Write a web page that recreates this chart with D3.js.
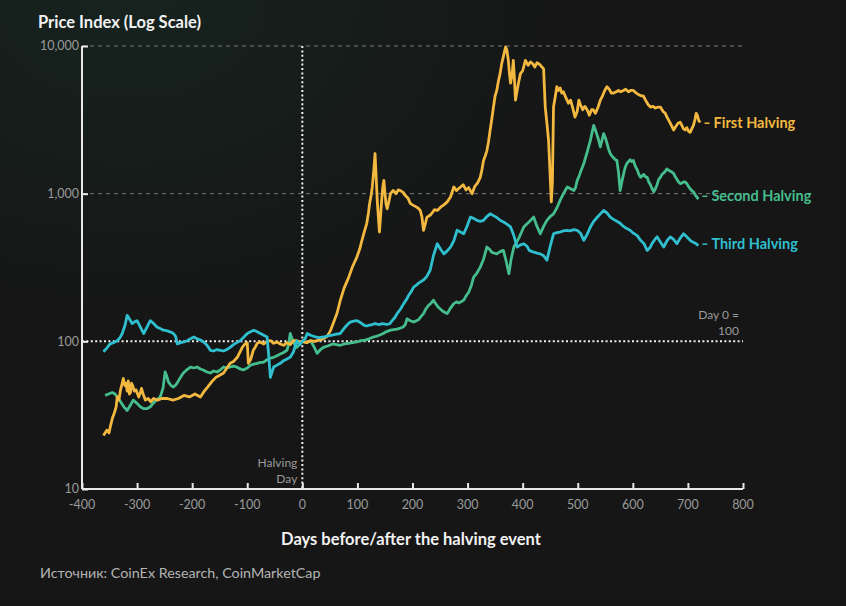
<!DOCTYPE html>
<html>
<head>
<meta charset="utf-8">
<script src="https://cdn.jsdelivr.net/npm/d3@7"></script>
<style>
  html, body { margin: 0; padding: 0; background: #161616; }
  svg { display: block; }
</style>
</head>
<body>
<svg id="chart" width="846" height="606"></svg>
<script>
// ---- data ----
const firstDays = [
  -361,-358,-355,-351,-348,-345,-341,-338,-336,-333,
  -330,-327,-325,-322,-320,-318,-316,-314,-312,-310,
  -308,-305,-302,-299,-297,-294,-292,-289,-285,-280,
  -275,-270,-263,-255,-245,-235,-225,-215,-205,-195,
  -185,-178,-172,-165,-157,-150,-143,-137,-131,-125,
  -118,-113,-109,-104,-100,-98,-94,-89,-85,-82,
  -76,-70,-64,-58,-52,-46,-40,-34,-28,-22,
  -16,-11,-5,0,8,15,22,30,38,45,
  51,57,63,69,76,84,91,99,104,108,
  113,117,120,122,125,127,130,132,134,136,
  138,140,142,144,146,148,150,152,154,157,
  160,165,170,174,178,183,187,192,196,200,
  205,210,214,217,220,223,226,233,240,245,
  251,257,263,269,275,280,286,292,297,302,
  308,313,318,323,326,329,332,335,338,341,
  344,347,350,353,356,359,362,365,369,371,
  374,376,378,381,383,385,387,390,392,394,
  396,400,405,410,414,418,422,426,431,435,
  438,441,444,447,450,452,454,456,459,462,
  465,468,471,474,478,483,487,491,495,499,
  502,505,509,513,517,521,525,528,532,537,
  541,545,549,553,557,561,565,570,574,578,
  583,587,592,596,601,606,610,615,619,623,
  628,632,637,641,646,650,655,659,662,666,
  670,674,678,682,686,689,692,695,698,701,
  704,707,710,713,715,717,720,723];
const firstValues = [
  23,24,25,24,27,30,33,36,42,40,
  47,52,56,50,52,46,54,44,45,52,
  50,46,47,44,42,45,48,44,40,41,
  39,41,40,41,41,40,41,43,42,44,
  42,46,49,53,57,59,61,66,71,73,
  78,85,91,96,98,71,75,87,92,97,
  99,96,100,101,97,99,96,94,98,95,
  101,101,99,100,98,101,100,102,104,108,
  118,135,155,190,230,270,320,372,420,480,
  560,630,740,850,980,1110,1480,1870,1300,900,
  700,550,700,900,1100,1230,1000,850,790,880,
  1000,1050,1000,1060,1050,1020,970,930,860,840,
  820,800,770,700,565,620,690,720,780,770,
  810,840,880,950,1110,1050,1100,1150,1060,1100,
  1000,1120,1180,1290,1450,1680,1800,1950,2250,2700,
  3200,3860,4600,5000,5800,6500,7600,8500,9840,9500,
  8000,6500,5600,6500,8000,6000,4300,5000,5500,6000,
  6500,6800,8000,7400,7800,7600,7200,7700,7500,7200,
  7000,3860,3000,2300,1300,880,1200,3860,4500,5300,
  5000,5200,4800,4900,4500,4100,4300,3800,3300,3600,
  4300,4000,3700,3900,3700,3400,3700,3700,3500,3860,
  4300,4600,5000,5300,5100,4800,4800,4900,5000,4900,
  5000,5100,4900,5000,5000,4800,4700,4600,4600,4300,
  4000,3860,3900,3800,3860,3860,3600,3500,3300,3100,
  2900,2700,2850,3000,3050,2900,2750,2700,2800,2650,
  2600,2750,2900,3200,3500,3400,3100,3050];

const secondDays = [
  -358,-352,-345,-340,-336,-330,-324,-318,-312,-307,
  -300,-294,-288,-282,-276,-271,-265,-258,-253,-249,
  -246,-243,-238,-234,-229,-225,-220,-216,-210,-203,
  -197,-191,-185,-180,-173,-167,-161,-155,-149,-143,
  -137,-131,-125,-119,-113,-107,-100,-94,-88,-82,
  -76,-71,-64,-58,-52,-46,-40,-34,-28,-25,
  -22,-16,-10,-5,0,7,15,21,27,33,
  38,46,55,62,69,76,84,91,99,106,
  114,121,129,137,145,152,160,166,172,178,
  183,187,190,196,202,207,211,216,220,224,
  229,234,238,242,247,251,255,259,263,269,
  275,280,284,289,293,298,302,307,311,317,
  323,329,335,340,344,349,353,359,365,370,
  375,379,384,389,393,398,402,407,411,416,
  420,426,432,438,444,450,456,462,468,474,
  481,487,493,496,499,502,505,508,511,514,
  517,520,523,526,529,532,535,538,541,544,
  547,550,553,556,559,562,565,568,571,574,
  577,580,583,586,589,592,595,598,601,604,
  608,611,614,617,620,623,626,629,632,635,
  638,641,644,647,650,653,656,659,662,665,
  668,671,674,677,680,683,686,689,692,695,
  698,701,704,707,710,712,714,716,719];
const secondValues = [
  43,44,45,44,42,39,36,34,37,40,
  38,36,35,35,36,38,40,42,48,62,
  58,53,50,49,51,54,58,61,64,67,
  66,67,65,64,62,61,63,62,64,67,
  66,67,68,67,65,64,66,69,70,71,
  72,72,75,77,78,80,82,84,87,95,
  113,98,91,95,100,98,101,92,83,88,
  91,93,96,95,94,96,97,98,99,101,
  102,104,107,109,112,116,119,120,121,123,
  125,130,142,138,135,138,140,148,154,165,
  175,182,190,180,170,165,160,157,154,168,
  180,185,182,186,190,205,215,240,272,290,
  318,360,435,420,400,395,391,405,413,350,
  287,360,435,470,500,550,595,620,640,670,
  694,600,535,600,660,700,730,800,900,1000,
  1110,1080,1050,1100,1230,1300,1400,1500,1600,1750,
  1900,2100,2300,2600,2900,2700,2500,2300,2070,2300,
  2550,2400,2200,2000,1870,1800,1750,1700,1680,1400,
  1050,1200,1350,1500,1600,1650,1700,1650,1680,1550,
  1450,1350,1290,1320,1350,1300,1290,1200,1150,1080,
  1030,1080,1150,1250,1290,1350,1380,1420,1470,1440,
  1420,1400,1370,1300,1250,1200,1170,1180,1200,1200,
  1170,1120,1080,1050,1030,1000,970,950,920];

const thirdDays = [
  -361,-355,-349,-343,-336,-331,-327,-322,-318,-313,
  -309,-304,-300,-294,-288,-282,-276,-270,-264,-258,
  -252,-246,-240,-234,-230,-227,-221,-215,-209,-203,
  -197,-191,-185,-179,-173,-167,-161,-155,-149,-143,
  -137,-131,-125,-119,-113,-106,-100,-94,-88,-82,
  -76,-70,-64,-61,-58,-55,-52,-46,-40,-34,
  -28,-22,-16,-10,-5,0,5,9,15,24,
  30,39,46,54,62,69,74,78,82,87,
  93,99,104,108,113,117,122,127,132,136,
  141,145,150,154,159,163,168,172,178,184,
  189,193,198,202,207,211,216,220,226,232,
  238,245,251,257,263,269,275,281,287,293,
  299,305,311,317,323,329,335,341,347,353,
  359,366,372,378,384,390,396,402,408,412,
  417,422,426,432,438,444,450,456,462,468,
  474,480,486,493,499,505,511,517,523,529,
  535,541,547,553,559,565,571,577,583,589,
  595,601,608,614,620,626,631,635,640,644,
  650,656,662,668,674,680,686,692,698,704,
  709,714,719];
const thirdValues = [
  85,90,96,98,101,106,113,128,150,140,
  132,136,138,125,113,125,138,132,125,122,
  119,118,116,113,108,96,98,99,101,104,
  107,104,102,99,94,87,86,88,87,86,
  88,91,95,98,101,107,113,116,119,116,
  113,110,107,80,57,62,67,69,71,74,
  76,78,85,101,95,100,104,113,110,107,
  106,107,109,110,112,113,120,125,130,135,
  137,138,135,132,128,127,129,130,132,131,
  130,132,131,130,132,138,145,154,165,180,
  192,205,218,233,240,248,255,260,275,303,
  380,458,420,391,410,435,480,565,550,535,
  600,694,680,660,650,660,700,730,710,690,
  660,640,620,595,520,435,450,458,440,413,
  405,400,395,391,380,354,440,535,545,550,
  560,565,560,570,565,540,483,530,595,650,
  690,730,770,740,694,670,650,630,600,580,
  565,540,520,483,460,413,430,460,490,510,
  470,435,480,510,490,458,500,535,510,483,
  470,460,445];

const yTicks = [10, 100, 1000, 10000];
const xTicks = [-400,-300,-200,-100,0,100,200,300,400,500,600,700,800];
const seriesNames = ["First Halving", "Second Halving", "Third Halving"];
const seriesColors = ["#f2b83f", "#45bd8d", "#2fbfcf"];

// ---- chart ----
const svg = d3.select("#chart");
const W = 846, H = 606;
const M = {left: 82, right: 103, top: 46, bottom: 117};
const x = d3.scaleLinear().domain([-400, 800]).range([M.left, W - M.right]);
const y = d3.scaleLog().domain([10, 10000]).range([H - M.bottom, M.top]);

const defs = svg.append("defs");
const grad = defs.append("radialGradient").attr("id", "bg")
  .attr("cx", "0.15").attr("cy", "0").attr("r", "0.9");
grad.append("stop").attr("offset", "0").attr("stop-color", "#16231f");
grad.append("stop").attr("offset", "0.6").attr("stop-color", "#161616");
grad.append("stop").attr("offset", "1").attr("stop-color", "#161616");
svg.append("rect").attr("width", W).attr("height", H).attr("fill", "url(#bg)");

const font = "Lato, 'Noto Sans', sans-serif";

// Title
svg.append("text").attr("x", 38).attr("y", 28)
  .attr("fill", "#f2f2f2").attr("font-family", font).attr("font-weight", 700)
  .attr("font-size", 16.5).text("Price Index (Log Scale)");

// grid lines at 1000 and 10000
[1000, 10000].forEach(v => {
  svg.append("line").attr("x1", x(-400)).attr("x2", x(800))
    .attr("y1", y(v)).attr("y2", y(v))
    .attr("stroke", "#7a7a7a").attr("stroke-width", 1).attr("stroke-dasharray", "4,4");
});
// Day 0 = 100 line
svg.append("line").attr("x1", x(-400)).attr("x2", x(800))
  .attr("y1", y(100)).attr("y2", y(100))
  .attr("stroke", "#f0f0f0").attr("stroke-width", 2).attr("stroke-dasharray", "2,2.4");
// halving day vertical
svg.append("line").attr("x1", x(0)).attr("x2", x(0))
  .attr("y1", y(10000)).attr("y2", y(10))
  .attr("stroke", "#f0f0f0").attr("stroke-width", 2).attr("stroke-dasharray", "2,2.4");

// Axes
const yAxis = d3.axisRight(y).tickValues(yTicks).tickSize(6).tickFormat("");
const gy = svg.append("g").attr("transform", `translate(${x(-400)},0)`).call(yAxis);
gy.select(".domain").attr("stroke", "#e8e8e8").attr("stroke-width", 2).attr("d", `M0,${y(10000)}V${y(10)}`);
gy.selectAll(".tick line").attr("stroke", "#e8e8e8").attr("stroke-width", 2);

svg.append("g").selectAll("text").data(yTicks).join("text")
  .attr("x", x(-400) - 3).attr("y", d => y(d)).attr("dy", "0.35em")
  .attr("text-anchor", "end").attr("fill", "#9a9a9a")
  .attr("font-family", font).attr("font-size", 12.5)
  .text(d => d3.format(",")(d));

const xAxis = d3.axisTop(x).tickValues(xTicks).tickSize(6).tickFormat("");
const gx = svg.append("g").attr("transform", `translate(0,${y(10)})`).call(xAxis);
gx.select(".domain").attr("stroke", "#e8e8e8").attr("stroke-width", 2).attr("d", `M${x(-400)},0H${x(800)}`);
gx.selectAll(".tick line").attr("stroke", "#e8e8e8").attr("stroke-width", 2);

svg.append("g").selectAll("text").data(xTicks).join("text")
  .attr("x", d => x(d)).attr("y", y(10) + 20)
  .attr("text-anchor", "middle").attr("fill", "#9a9a9a")
  .attr("font-family", font).attr("font-size", 12.5)
  .text(d => d);

// axis title
svg.append("text").attr("x", 411).attr("y", 545).attr("text-anchor", "middle")
  .attr("fill", "#f2f2f2").attr("font-family", font).attr("font-weight", 700)
  .attr("font-size", 16.5).text("Days before/after the halving event");

// annotations
const ann1 = svg.append("text").attr("text-anchor", "end").attr("fill", "#9a9a9a")
  .attr("font-family", font).attr("font-size", 12);
ann1.append("tspan").attr("x", x(0) - 5).attr("y", 467).text("Halving");
ann1.append("tspan").attr("x", x(0) - 5).attr("y", 483).text("Day");
const ann2 = svg.append("text").attr("text-anchor", "end").attr("fill", "#9a9a9a")
  .attr("font-family", font).attr("font-size", 12);
ann2.append("tspan").attr("x", 739).attr("y", 319).text("Day 0 =");
ann2.append("tspan").attr("x", 739).attr("y", 335).text("100");

// Source
svg.append("text").attr("x", 40).attr("y", 578)
  .attr("fill", "#b4b4b4").attr("font-family", font).attr("font-size", 14.3)
  .text("Источник: CoinEx Research, CoinMarketCap");

// lines
const series = [
  {days: secondDays, values: secondValues, idx: 1},
  {days: firstDays, values: firstValues, idx: 0},
  {days: thirdDays, values: thirdValues, idx: 2}
];
const line = d3.line().x(d => x(d[0])).y(d => y(d[1]));
series.forEach(s => {
  const n = Math.min(s.days.length, s.values.length);
  const pts = s.days.slice(0, n).map((d, i) => [d, s.values[i]]);
  svg.append("path").datum(pts).attr("d", line)
    .attr("fill", "none").attr("stroke", seriesColors[s.idx])
    .attr("stroke-width", 2.8).attr("stroke-linejoin", "round");
});

// end labels
[{idx: 0, days: firstDays, v: 3000},
 {idx: 1, days: secondDays, v: 960},
 {idx: 2, days: thirdDays, v: 455}].forEach(s => {
  const yy = y(s.v);
  const x0 = x(s.days[s.days.length - 1]);
  svg.append("line").attr("x1", x0 + 4).attr("x2", x0 + 9).attr("y1", yy).attr("y2", yy)
    .attr("stroke", seriesColors[s.idx]).attr("stroke-width", 1.5);
  svg.append("text").attr("x", x0 + 13).attr("y", yy).attr("dy", "0.35em")
    .attr("fill", seriesColors[s.idx]).attr("font-family", font).attr("font-weight", 700)
    .attr("font-size", 14.5).text(seriesNames[s.idx]);
});
</script>
</body>
</html>
